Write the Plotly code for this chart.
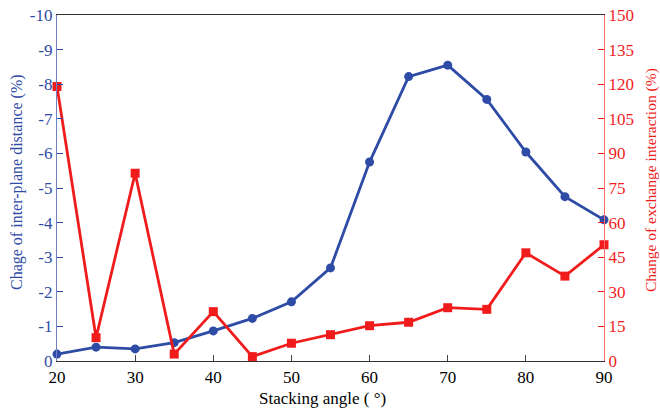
import plotly.graph_objects as go

angles = [20, 25, 30, 35, 40, 45, 50, 55, 60, 65, 70, 75, 80, 85, 90]
interplane = [-0.2, -0.4, -0.35, -0.53, -0.87, -1.23, -1.71, -2.69, -5.75, -8.22, -8.55, -7.56, -6.04, -4.75, -4.08]
exchange = [119, 10.1, 81.4, 3.0, 21.4, 1.9, 7.7, 11.4, 15.3, 16.8, 23.1, 22.4, 46.9, 36.8, 50.4]

left_ticks = [0, -1, -2, -3, -4, -5, -6, -7, -8, -9, -10]
left_ticktext = ["0", "-1", "-2", "-3", "-4", "-5", "-6", "-7", "-8", "-9", "-10"]
right_ticks = [0, 15, 30, 45, 60, 75, 90, 105, 120, 135, 150]
x_ticks = [20, 30, 40, 50, 60, 70, 80, 90]

BLUE = "#2E4BA6"
RED = "#F01C1C"
FONT = "Liberation Serif"
TICK_FS = 17

W, H = 660, 412
ML, MR, MT, MB = 57, 56, 15, 51

fig = go.Figure()
fig.add_trace(go.Scatter(
    x=angles, y=interplane, mode="lines+markers",
    line=dict(color=BLUE, width=2.8),
    marker=dict(symbol="circle", size=9, color=BLUE),
    cliponaxis=False, yaxis="y", showlegend=False))
fig.add_trace(go.Scatter(
    x=angles, y=exchange, mode="lines+markers",
    line=dict(color=RED, width=2.8),
    marker=dict(symbol="square", size=9, color=RED),
    cliponaxis=False, yaxis="y2", showlegend=False))

fig.update_layout(
    width=W, height=H,
    margin=dict(l=ML, r=MR, t=MT, b=MB, pad=0),
    plot_bgcolor="white", paper_bgcolor="white",
    font=dict(family=FONT, size=TICK_FS, color="black"),
    xaxis=dict(
        range=[20, 90], tickvals=x_ticks, ticks="inside", ticklen=6,
        showline=True, linecolor="#333333", linewidth=1.2, mirror=True,
        showgrid=False, zeroline=False, automargin=False, ticklabeloverflow="allow",
        tickfont=dict(family=FONT, size=TICK_FS, color="black"),
    ),
    yaxis=dict(
        range=[0, -10], tickvals=left_ticks, ticktext=left_ticktext,
        ticks="inside", ticklen=6, tickcolor=BLUE,
        showline=True, linecolor="#6F80C4", linewidth=1.2,
        showgrid=False, zeroline=False, automargin=False, ticklabeloverflow="allow",
        tickfont=dict(family=FONT, size=TICK_FS, color=BLUE),
    ),
    yaxis2=dict(
        range=[0, 150], tickvals=right_ticks, overlaying="y", side="right",
        ticks="inside", ticklen=6, tickcolor=RED,
        showline=True, linecolor="#FF6A6A", linewidth=1.2,
        showgrid=False, zeroline=False, automargin=False, ticklabeloverflow="allow",
        tickfont=dict(family=FONT, size=TICK_FS, color=RED),
    ),
)

pw = W - ML - MR
ph = H - MT - MB
def px(xs):
    return (xs - ML) / pw
def py(ys):
    return (H - MB - ys) / ph

fig.add_annotation(text="Stacking angle ( °)", x=px(322), y=py(398), xref="paper", yref="paper",
                   showarrow=False, xanchor="center", yanchor="middle",
                   font=dict(family=FONT, size=17, color="black"))
fig.add_annotation(text="Chage of inter-plane distance (%)", x=px(17), y=py(182), xref="paper", yref="paper",
                   showarrow=False, textangle=-90, xanchor="center", yanchor="middle",
                   font=dict(family=FONT, size=16, color=BLUE))
fig.add_annotation(text="Change of exchange interaction (%)", x=px(651), y=py(180), xref="paper", yref="paper",
                   showarrow=False, textangle=-90, xanchor="center", yanchor="middle",
                   font=dict(family=FONT, size=15.5, color=RED))

fig.write_html("out.html", config={"displayModeBar": False},
               post_script="document.body.style.margin='0px';")
